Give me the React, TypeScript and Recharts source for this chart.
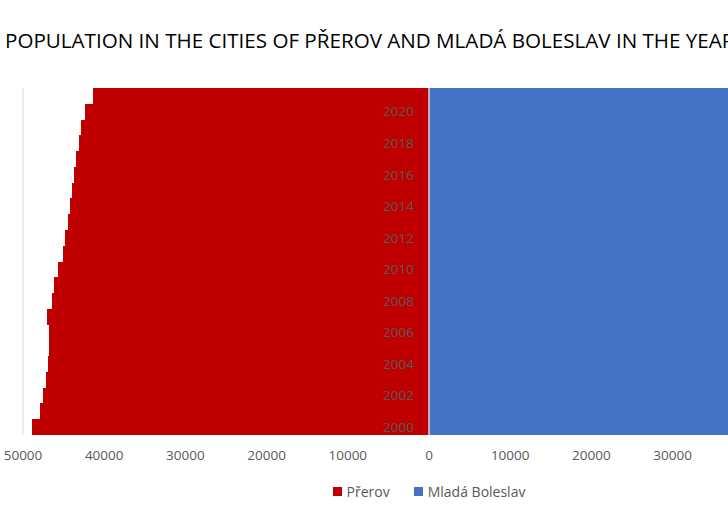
import { BarChart, Bar, XAxis, YAxis, CartesianGrid, Legend, LabelList, ReferenceLine } from 'recharts'

// population by year, Přerov drawn to the left of zero
const YEARS = ['2000', '2001', '2002', '2003', '2004', '2005', '2006', '2007', '2008', '2009', '2010',
  '2011', '2012', '2013', '2014', '2015', '2016', '2017', '2018', '2019', '2020', '2021']
const PREROV = [48840, 47860, 47540, 47200, 46920, 46800, 46800, 47000, 46430, 46180, 45690,
  45030, 44780, 44460, 44250, 43970, 43720, 43510, 43140, 42810, 42370, 41380]
const MLADA_BOLESLAV = [43900, 43800, 43700, 43500, 43400, 43600, 43800, 44000, 44500, 44700, 44300,
  44200, 44400, 44500, 44300, 44100, 44200, 44300, 44500, 44600, 44800, 43800]
const X_TICKS = [-50000, -40000, -30000, -20000, -10000, 0, 10000, 20000, 30000, 40000, 50000]

const TITLE = 'POPULATION IN THE CITIES OF PŘEROV AND MLADÁ BOLESLAV IN THE YEARS 2000–2021'
const FONT = '"Open Sans", "Noto Sans", sans-serif'
const GREY = '#595959'

const SERIES = [
  { key: 'prerov', name: 'Přerov', color: '#C00000' },
  { key: 'boleslav', name: 'Mladá Boleslav', color: '#4472C4' },
]

const data = YEARS.map((year, i) => ({
  year,
  prerov: -PREROV[i],
  boleslav: MLADA_BOLESLAV[i],
}))

// year labels sit just left of the zero line, every second year
const YearLabel = (props: any) => {
  const { x, y, width, height, value } = props
  if (Number(value) % 2 !== 0) return null
  const right = Math.max(x, x + width)
  return (
    <text x={right - 15} y={y + height / 2} dy="0.35em" textAnchor="end" fill={GREY} fontSize={13.5} fontFamily={FONT}>
      {value}
    </text>
  )
}

const LegendBox = () => (
  <div style={{ display: 'flex', justifyContent: 'center', gap: 24, fontFamily: FONT, fontSize: 14, color: GREY }}>
    {SERIES.map((s) => (
      <div key={s.key} style={{ display: 'flex', alignItems: 'center', gap: 5 }}>
        <span style={{ width: 9, height: 9, background: s.color, display: 'inline-block' }} />
        <span>{s.name}</span>
      </div>
    ))}
  </div>
)

export default function App() {
  return (
    <div style={{ position: 'absolute', left: 0, top: 0, width: 728, height: 509, overflow: 'hidden', background: '#fff' }}>
      {/* no hairline seams between adjacent year bars */}
      <style>{'.recharts-bar-rectangle path { shape-rendering: crispEdges; }'}</style>
      <div style={{ position: 'absolute', left: 5, top: 26, whiteSpace: 'nowrap', fontFamily: FONT, fontSize: 20.6, color: '#000' }}>
        {TITLE}
      </div>
      <BarChart
        width={858}
        height={509}
        data={data}
        layout="vertical"
        stackOffset="sign"
        barCategoryGap={0}
        barGap={0}
        margin={{ top: 88, right: 23, left: 23, bottom: 25 }}
      >
        <CartesianGrid horizontal={false} stroke="#d9d9d9" />
        <XAxis
          type="number"
          domain={[-50000, 50000]}
          ticks={X_TICKS}
          tickFormatter={(v) => String(Math.abs(v))}
          axisLine={false}
          tickLine={false}
          tickMargin={9}
          tick={{ fill: GREY, fontSize: 13.5, fontFamily: FONT }}
          interval={0}
        />
        <YAxis type="category" dataKey="year" reversed hide />
        {SERIES.map((s) => (
          <Bar key={s.key} dataKey={s.key} name={s.name} stackId="a" fill={s.color} isAnimationActive={false}>
            {s.key === 'prerov' && <LabelList dataKey="year" content={<YearLabel />} />}
          </Bar>
        ))}
        <ReferenceLine x={0} stroke="#d9d9d9" strokeWidth={1.5} />
        <Legend verticalAlign="bottom" content={<LegendBox />} wrapperStyle={{ top: 482, bottom: 'auto' }} />
      </BarChart>
    </div>
  )
}
